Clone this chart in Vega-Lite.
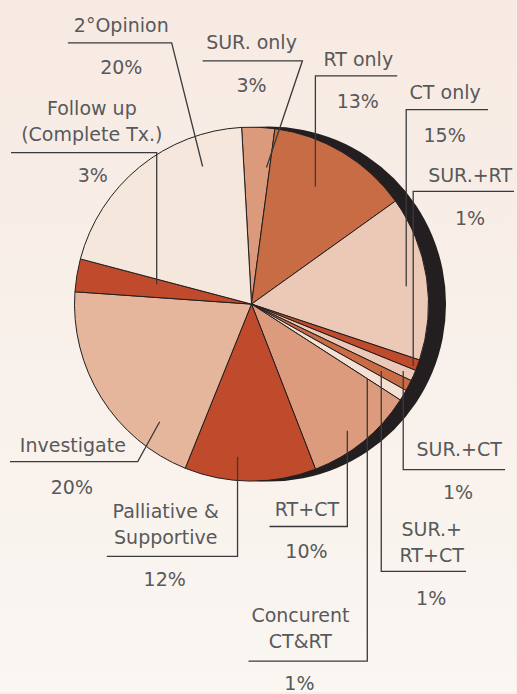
{
  "$schema": "https://vega.github.io/schema/vega-lite/v6.json",
  "width": 517,
  "height": 694,
  "autosize": {"type": "fit", "contains": "padding"},
  "padding": 0,
  "background": "#f8efe9",
  "config": {
    "view": {
      "stroke": null,
      "fill": {
        "gradient": "linear", "x1": 0, "y1": 0, "x2": 0, "y2": 1,
        "stops": [{"offset": 0, "color": "#f7eae2"}, {"offset": 1, "color": "#faf6f2"}]
      }
    }
  },
  "datasets": {
    "slices": [
      {"idx": 1, "category": "SUR. only", "value": 3},
      {"idx": 2, "category": "RT only", "value": 13},
      {"idx": 3, "category": "CT only", "value": 15},
      {"idx": 4, "category": "SUR.+RT", "value": 1},
      {"idx": 5, "category": "SUR.+CT", "value": 1},
      {"idx": 6, "category": "SUR.+RT+CT", "value": 1},
      {"idx": 7, "category": "Concurent CT&RT", "value": 1},
      {"idx": 8, "category": "RT+CT", "value": 10},
      {"idx": 9, "category": "Palliative & Supportive", "value": 12},
      {"idx": 10, "category": "Investigate", "value": 20},
      {"idx": 11, "category": "Follow up (Complete Tx.)", "value": 3},
      {"idx": 12, "category": "2°Opinion", "value": 20}
    ],
    "leaders": [
      {"label": "2°Opinion", "step": 1, "x": 203, "y": 167},
      {"label": "2°Opinion", "step": 2, "x": 172, "y": 43},
      {"label": "2°Opinion", "step": 3, "x": 68, "y": 43},
      {"label": "SUR. only", "step": 1, "x": 267, "y": 168},
      {"label": "SUR. only", "step": 2, "x": 303, "y": 61},
      {"label": "SUR. only", "step": 3, "x": 203, "y": 61},
      {"label": "RT only", "step": 1, "x": 316, "y": 187},
      {"label": "RT only", "step": 2, "x": 316, "y": 76},
      {"label": "RT only", "step": 3, "x": 398, "y": 76},
      {"label": "CT only", "step": 1, "x": 407, "y": 287},
      {"label": "CT only", "step": 2, "x": 407, "y": 110},
      {"label": "CT only", "step": 3, "x": 489, "y": 110},
      {"label": "SUR.+RT", "step": 1, "x": 414, "y": 367},
      {"label": "SUR.+RT", "step": 2, "x": 414, "y": 192},
      {"label": "SUR.+RT", "step": 3, "x": 515, "y": 192},
      {"label": "SUR.+CT", "step": 1, "x": 404, "y": 372},
      {"label": "SUR.+CT", "step": 2, "x": 404, "y": 471},
      {"label": "SUR.+CT", "step": 3, "x": 506, "y": 471},
      {"label": "SUR.+RT+CT", "step": 1, "x": 382, "y": 372},
      {"label": "SUR.+RT+CT", "step": 2, "x": 382, "y": 573},
      {"label": "SUR.+RT+CT", "step": 3, "x": 467, "y": 573},
      {"label": "Concurent CT&RT", "step": 1, "x": 368, "y": 380},
      {"label": "Concurent CT&RT", "step": 2, "x": 368, "y": 663},
      {"label": "Concurent CT&RT", "step": 3, "x": 249, "y": 663},
      {"label": "RT+CT", "step": 1, "x": 348, "y": 432},
      {"label": "RT+CT", "step": 2, "x": 348, "y": 528},
      {"label": "RT+CT", "step": 3, "x": 270, "y": 528},
      {"label": "Palliative & Supportive", "step": 1, "x": 238, "y": 458},
      {"label": "Palliative & Supportive", "step": 2, "x": 238, "y": 558},
      {"label": "Palliative & Supportive", "step": 3, "x": 107, "y": 558},
      {"label": "Investigate", "step": 1, "x": 160, "y": 423},
      {"label": "Investigate", "step": 2, "x": 138, "y": 463},
      {"label": "Investigate", "step": 3, "x": 10, "y": 463},
      {"label": "Follow up (Complete Tx.)", "step": 1, "x": 157, "y": 285},
      {"label": "Follow up (Complete Tx.)", "step": 2, "x": 157, "y": 153},
      {"label": "Follow up (Complete Tx.)", "step": 3, "x": 11, "y": 153}
    ],
    "texts": [
      {"text": "2°Opinion", "x": 121.5, "y": 32},
      {"text": "20%", "x": 121.5, "y": 74},
      {"text": "SUR. only", "x": 252, "y": 49},
      {"text": "3%", "x": 252, "y": 92},
      {"text": "RT only", "x": 359, "y": 66},
      {"text": "13%", "x": 358.5, "y": 108},
      {"text": "CT only", "x": 446, "y": 99},
      {"text": "15%", "x": 445.5, "y": 142},
      {"text": "SUR.+RT", "x": 471, "y": 183},
      {"text": "1%", "x": 471, "y": 226},
      {"text": "SUR.+CT", "x": 460, "y": 457},
      {"text": "1%", "x": 459, "y": 500},
      {"text": "SUR.+\nRT+CT", "x": 432.5, "y": 538},
      {"text": "1%", "x": 432, "y": 607},
      {"text": "Concurent\nCT&RT", "x": 301, "y": 624},
      {"text": "1%", "x": 300, "y": 692},
      {"text": "RT+CT", "x": 307.5, "y": 517},
      {"text": "10%", "x": 307, "y": 560},
      {"text": "Palliative &\nSupportive", "x": 166, "y": 519},
      {"text": "12%", "x": 165, "y": 588},
      {"text": "Investigate", "x": 73, "y": 453},
      {"text": "20%", "x": 72, "y": 495},
      {"text": "Follow up\n(Complete Tx.)", "x": 92, "y": 115},
      {"text": "3%", "x": 93, "y": 183}
    ]
  },
  "layer": [
    {
      "data": {"values": [{"shadow": "right"}]},
      "mark": {"type": "arc", "outerRadius": 177.5, "theta": 0, "theta2": 6.2832, "color": "#231f20"},
      "encoding": {
        "x": {"datum": 269, "type": "quantitative", "scale": {"domain": [0, 517], "nice": false, "zero": false}, "axis": null},
        "y": {"datum": 305, "type": "quantitative", "scale": {"domain": [0, 694], "reverse": true, "nice": false, "zero": false}, "axis": null}
      }
    },
    {
      "data": {"name": "slices"},
      "mark": {"type": "arc", "outerRadius": 177, "stroke": "#231f20", "strokeWidth": 1},
      "encoding": {
        "x": {"datum": 252, "type": "quantitative", "scale": {"domain": [0, 517], "nice": false, "zero": false}, "axis": null},
        "y": {"datum": 305, "type": "quantitative", "scale": {"domain": [0, 694], "reverse": true, "nice": false, "zero": false}, "axis": null},
        "theta": {"field": "value", "type": "quantitative", "stack": true, "scale": {"range": [-0.0559, 6.2273]}},
        "order": {"field": "idx", "type": "quantitative"},
        "color": {
          "field": "category", "type": "nominal", "legend": null,
          "scale": {
            "domain": ["SUR. only", "RT only", "CT only", "SUR.+RT", "SUR.+CT", "SUR.+RT+CT", "Concurent CT&RT", "RT+CT", "Palliative & Supportive", "Investigate", "Follow up (Complete Tx.)", "2°Opinion"],
            "range": ["#db9a7b", "#c86c46", "#ecc9b6", "#c04b2c", "#ecc9b6", "#c96c46", "#f5e1d4", "#dc9b7c", "#c04b2c", "#e5b69c", "#c04b2c", "#f6e7dd"]
          }
        }
      }
    },
    {
      "data": {"name": "leaders"},
      "mark": {"type": "line", "color": "#3a3a3c", "strokeWidth": 1.3, "interpolate": "linear"},
      "encoding": {
        "x": {"field": "x", "type": "quantitative", "scale": {"domain": [0, 517], "nice": false, "zero": false}, "axis": null},
        "y": {"field": "y", "type": "quantitative", "scale": {"domain": [0, 694], "reverse": true, "nice": false, "zero": false}, "axis": null},
        "detail": {"field": "label", "type": "nominal"},
        "order": {"field": "step", "type": "quantitative"}
      }
    },
    {
      "data": {"name": "texts"},
      "mark": {"type": "text", "font": "DejaVu Sans", "fontSize": 19, "color": "#58595b", "align": "center", "baseline": "alphabetic", "lineBreak": "\n", "lineHeight": 26},
      "encoding": {
        "x": {"field": "x", "type": "quantitative", "scale": {"domain": [0, 517], "nice": false, "zero": false}, "axis": null},
        "y": {"field": "y", "type": "quantitative", "scale": {"domain": [0, 694], "reverse": true, "nice": false, "zero": false}, "axis": null},
        "text": {"field": "text", "type": "nominal"}
      }
    }
  ]
}
